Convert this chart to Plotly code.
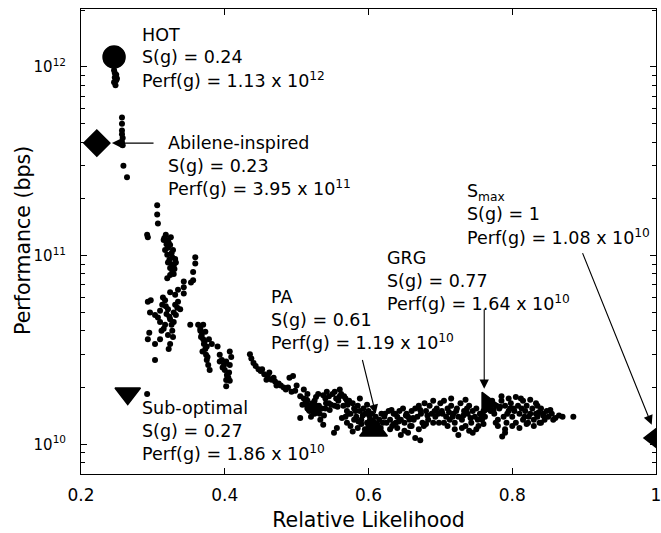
import math
import plotly.graph_objects as go

# ---------------- simulated graphs (small black dots) ----------------
hot_cluster_x = [0.245, 0.246, 0.247, 0.249, 0.247, 0.249, 0.246, 0.248, 0.250]
hot_cluster_y = [1.03e12, 9.6e11, 9.3e11, 9.1e11, 8.8e11, 8.5e11, 8.3e11, 8.0e11, 8.7e11]

abilene_cluster_x = [0.257, 0.257, 0.257, 0.257, 0.258, 0.257, 0.258, 0.259, 0.264]
abilene_cluster_y = [5.4e11, 5.0e11, 4.6e11, 4.4e11, 4.2e11, 4.0e11, 3.85e11, 3.0e11, 2.6e11]

upper_x = [0.306, 0.306, 0.307, 0.292, 0.293, 0.315, 0.321, 0.324, 0.317, 0.320, 0.321, 0.324,
           0.327, 0.329, 0.332, 0.327, 0.324, 0.320, 0.328, 0.321, 0.318, 0.325, 0.359, 0.359,
           0.356, 0.356, 0.353, 0.343, 0.343, 0.343, 0.323, 0.326, 0.330, 0.322, 0.319, 0.331,
           0.316, 0.326, 0.329]
upper_y = [1.85e11, 1.65e11, 1.48e11, 1.29e11, 1.25e11, 1.21e11, 1.21e11, 1.14e11, 1.07e11, 1.01e11, 9.2e10, 8.6e10,
           8.2e10, 8.9e10, 9.2e10, 9.8e10, 7.9e10, 7.6e10, 1.07e11, 1.10e11, 1.29e11, 1.25e11, 9.8e10, 9.1e10,
           8.2e10, 7.4e10, 7.2e10, 7.3e10, 6.8e10, 6.3e10, 9.5e10, 1.03e11, 8.5e10, 1.17e11, 1.15e11, 9.6e10,
           1.24e11, 9.0e10, 8.0e10]

mid_x = [0.293, 0.296, 0.303, 0.310, 0.313, 0.317, 0.321, 0.324, 0.327, 0.328, 0.324, 0.321, 0.317,
         0.310, 0.307, 0.331, 0.335, 0.338, 0.332, 0.329, 0.295, 0.303, 0.310, 0.303, 0.315, 0.331,
         0.293, 0.352, 0.292, 0.314, 0.324, 0.335, 0.297, 0.319, 0.326, 0.312, 0.322, 0.318, 0.329,
         0.334, 0.323]
mid_y = [5.7e10, 5.0e10, 4.85e10, 5.1e10, 5.5e10, 5.8e10, 5.2e10, 4.6e10, 4.0e10, 3.7e10, 3.4e10, 3.8e10, 4.3e10,
         4.45e10, 4.7e10, 5.5e10, 5.7e10, 5.2e10, 4.85e10, 4.45e10, 3.9e10, 3.4e10, 3.6e10, 2.8e10, 4.1e10, 6.2e10,
         3.6e10, 4.3e10, 1.85e10, 6.0e10, 6.4e10, 6.6e10, 5.8e10, 4.9e10, 4.3e10, 4.0e10, 3.2e10, 5.4e10, 5.0e10,
         5.3e10, 4.75e10]

c37_x = [0.363, 0.366, 0.368, 0.370, 0.371, 0.373, 0.374, 0.375, 0.377, 0.379, 0.366, 0.373, 0.378,
         0.375, 0.367, 0.382, 0.370, 0.369, 0.376, 0.372]
c37_y = [4.3e10, 4.0e10, 3.8e10, 3.6e10, 3.4e10, 3.2e10, 2.98e10, 2.8e10, 2.63e10, 2.48e10, 4.1e10, 3.95e10, 3.6e10,
         3.3e10, 3.7e10, 3.4e10, 4.3e10, 3.1e10, 2.9e10, 3.5e10]

c40_x = [0.390, 0.393, 0.396, 0.399, 0.400, 0.403, 0.406, 0.393, 0.402, 0.405, 0.407, 0.409, 0.407,
         0.402, 0.407, 0.402, 0.404, 0.397]
c40_y = [3.3e10, 2.98e10, 2.8e10, 2.63e10, 2.48e10, 2.33e10, 2.4e10, 2.75e10, 2.75e10, 2.25e10, 3.1e10, 2.9e10, 2.63e10,
         2.19e10, 2.17e10, 2.03e10, 2.28e10, 2.55e10]

band_a_x = [0.435, 0.437, 0.440, 0.443, 0.447, 0.450, 0.455, 0.460, 0.465, 0.470, 0.475, 0.458, 0.468,
            0.478, 0.490, 0.495, 0.500, 0.485, 0.493, 0.452, 0.472, 0.482, 0.498, 0.488, 0.462]
band_a_y = [3.0e10, 2.85e10, 2.7e10, 2.6e10, 2.5e10, 2.45e10, 2.35e10, 2.3e10, 2.2e10, 2.15e10, 2.1e10, 2.2e10, 2.25e10,
            2.05e10, 2.25e10, 2.3e10, 2.05e10, 1.95e10, 1.9e10, 2.5e10, 2.05e10, 2.0e10, 1.92e10, 2.0e10, 2.4e10]

band_b_x = [0.505, 0.510, 0.512, 0.515, 0.518, 0.520, 0.522, 0.525, 0.528, 0.530, 0.532, 0.535, 0.525,
            0.520, 0.515, 0.510, 0.540, 0.545, 0.550, 0.555, 0.558, 0.560, 0.545, 0.540, 0.537, 0.530,
            0.515, 0.505, 0.533, 0.537, 0.556, 0.552, 0.518, 0.523, 0.542, 0.548, 0.566, 0.570, 0.527,
            0.513, 0.560, 0.553]
band_b_y = [1.8e10, 1.75e10, 1.65e10, 1.7e10, 1.6e10, 1.55e10, 1.65e10, 1.7e10, 1.6e10, 1.5e10, 1.45e10, 1.55e10, 1.45e10,
            1.4e10, 1.85e10, 1.95e10, 1.75e10, 1.8e10, 1.85e10, 1.75e10, 1.7e10, 1.8e10, 1.65e10, 1.55e10, 1.82e10, 1.85e10,
            1.55e10, 1.38e10, 1.35e10, 1.27e10, 1.22e10, 1.15e10, 1.5e10, 1.58e10, 1.9e10, 1.62e10, 1.8e10, 1.7e10, 1.78e10,
            1.62e10, 1.95e10, 1.9e10]

band_c_x = [0.562, 0.565, 0.568, 0.570, 0.573, 0.575, 0.578, 0.580, 0.583, 0.585, 0.588, 0.590, 0.593,
            0.595, 0.598, 0.600, 0.603, 0.605, 0.608, 0.610, 0.613, 0.615, 0.618, 0.570, 0.575, 0.580,
            0.585, 0.590, 0.595, 0.600, 0.605, 0.610, 0.615, 0.578, 0.568, 0.588, 0.598, 0.620]
band_c_y = [1.85e10, 1.6e10, 1.75e10, 1.5e10, 1.7e10, 1.45e10, 1.65e10, 1.55e10, 1.4e10, 1.6e10, 1.5e10, 1.35e10, 1.55e10,
            1.45e10, 1.3e10, 1.5e10, 1.35e10, 1.45e10, 1.3e10, 1.4e10, 1.25e10, 1.35e10, 1.45e10, 1.3e10, 1.25e10, 1.35e10,
            1.22e10, 1.28e10, 1.2e10, 1.25e10, 1.15e10, 1.2e10, 1.15e10, 1.17e10, 1.4e10, 1.75e10, 1.62e10, 1.3e10]

band_d_x = [0.622, 0.625, 0.628, 0.630, 0.633, 0.635, 0.638, 0.640, 0.643, 0.645, 0.648, 0.650, 0.653,
            0.655, 0.658, 0.660, 0.663, 0.665, 0.668, 0.670, 0.673, 0.675, 0.678, 0.680, 0.683, 0.685,
            0.688, 0.690, 0.693, 0.695, 0.698, 0.700, 0.630, 0.640, 0.650, 0.660, 0.670, 0.680, 0.690,
            0.672, 0.665, 0.655, 0.645, 0.635]
band_d_y = [1.4e10, 1.3e10, 1.5e10, 1.35e10, 1.25e10, 1.45e10, 1.3e10, 1.4e10, 1.5e10, 1.35e10, 1.55e10, 1.3e10, 1.45e10,
            1.4e10, 1.25e10, 1.5e10, 1.35e10, 1.55e10, 1.4e10, 1.6e10, 1.45e10, 1.3e10, 1.65e10, 1.5e10, 1.35e10, 1.6e10,
            1.45e10, 1.7e10, 1.4e10, 1.55e10, 1.3e10, 1.65e10, 1.2e10, 1.22e10, 1.18e10, 1.25e10, 1.2e10, 1.28e10, 1.3e10,
            1.05e10, 1.08e10, 1.15e10, 1.12e10, 1.28e10]

band_e_x = [0.702, 0.705, 0.708, 0.710, 0.713, 0.715, 0.718, 0.720, 0.723, 0.725, 0.728, 0.730, 0.733,
            0.735, 0.738, 0.740, 0.743, 0.745, 0.748, 0.750, 0.753, 0.755, 0.758, 0.760, 0.710, 0.720,
            0.730, 0.740, 0.750, 0.760, 0.715, 0.735, 0.745, 0.725, 0.705]
band_e_y = [1.5e10, 1.7e10, 1.4e10, 1.55e10, 1.35e10, 1.6e10, 1.45e10, 1.3e10, 1.55e10, 1.4e10, 1.65e10, 1.35e10, 1.5e10,
            1.25e10, 1.45e10, 1.6e10, 1.3e10, 1.5e10, 1.4e10, 1.55e10, 1.25e10, 1.45e10, 1.35e10, 1.5e10, 1.25e10, 1.2e10,
            1.22e10, 1.18e10, 1.2e10, 1.28e10, 1.75e10, 1.72e10, 1.15e10, 1.12e10, 1.3e10]

band_f_x = [0.770, 0.772, 0.775, 0.778, 0.780, 0.782, 0.785, 0.788, 0.790, 0.792, 0.795, 0.798, 0.800,
            0.802, 0.805, 0.808, 0.810, 0.812, 0.815, 0.818, 0.820, 0.822, 0.825, 0.828, 0.830, 0.833,
            0.835, 0.838, 0.840, 0.843, 0.845, 0.780, 0.790, 0.800, 0.810, 0.820, 0.830, 0.840, 0.785,
            0.795, 0.805, 0.815, 0.825, 0.835, 0.848, 0.850, 0.855, 0.860, 0.865, 0.870, 0.885, 0.786,
            0.790]
band_f_y = [1.5e10, 1.7e10, 1.45e10, 1.6e10, 1.35e10, 1.55e10, 1.7e10, 1.4e10, 1.6e10, 1.3e10, 1.5e10, 1.65e10, 1.4e10,
            1.55e10, 1.3e10, 1.6e10, 1.45e10, 1.75e10, 1.35e10, 1.5e10, 1.6e10, 1.3e10, 1.45e10, 1.55e10, 1.35e10, 1.65e10,
            1.4e10, 1.3e10, 1.55e10, 1.45e10, 1.35e10, 1.25e10, 1.2e10, 1.25e10, 1.22e10, 1.28e10, 1.25e10, 1.3e10, 1.8e10,
            1.75e10, 1.78e10, 1.7e10, 1.72e10, 1.6e10, 1.5e10, 1.4e10, 1.45e10, 1.38e10, 1.42e10, 1.4e10, 1.4e10, 1.1e10,
            1.15e10]

band_fill_x = [0.508, 0.517, 0.523, 0.531, 0.538, 0.546, 0.553, 0.563, 0.572, 0.582, 0.592, 0.602, 0.612,
               0.623, 0.632, 0.642, 0.652, 0.662, 0.672, 0.682, 0.692, 0.703, 0.712, 0.722, 0.732, 0.742,
               0.752, 0.762, 0.774, 0.783, 0.793, 0.803, 0.813, 0.823, 0.833, 0.843, 0.853, 0.514, 0.527,
               0.541, 0.557, 0.571, 0.586, 0.601, 0.617, 0.637, 0.657, 0.677, 0.697, 0.717, 0.737, 0.757,
               0.777, 0.797, 0.817, 0.837, 0.857]
band_fill_y = [1.62e10, 1.52e10, 1.48e10, 1.6e10, 1.42e10, 1.52e10, 1.6e10, 1.38e10, 1.45e10, 1.5e10, 1.42e10, 1.35e10, 1.28e10,
               1.45e10, 1.52e10, 1.32e10, 1.42e10, 1.38e10, 1.52e10, 1.42e10, 1.5e10, 1.45e10, 1.48e10, 1.5e10, 1.42e10, 1.38e10,
               1.35e10, 1.4e10, 1.52e10, 1.58e10, 1.45e10, 1.5e10, 1.55e10, 1.4e10, 1.45e10, 1.42e10, 1.52e10, 1.72e10, 1.52e10,
               1.65e10, 1.58e10, 1.62e10, 1.32e10, 1.42e10, 1.22e10, 1.45e10, 1.35e10, 1.25e10, 1.45e10, 1.4e10, 1.55e10, 1.4e10,
               1.3e10, 1.55e10, 1.4e10, 1.48e10, 1.35e10]

# ---------------- highlighted topologies ----------------
special_names = ["HOT", "Abilene-inspired", "Sub-optimal", "PA", "GRG", "S<sub>max</sub>"]
special_s = [0.246, 0.222, 0.265, 0.607, 0.765, 1.0]
special_perf = [1.13e12, 3.95e11, 1.86e10, 1.19e10, 1.64e10, 1.08e10]
special_s_label = ["0.24", "0.23", "0.27", "0.61", "0.77", "1"]
special_perf_mant = ["1.13", "3.95", "1.86", "1.19", "1.64", "1.08"]
special_perf_exp = ["12", "11", "10", "10", "10", "10"]
special_symbols = ["circle", "diamond", "triangle-down", "triangle-up", "triangle-right", "triangle-left"]
special_sizes = [22, 20, 22, 24, 20, 24]

x_ticks = [0.2, 0.4, 0.6, 0.8, 1.0]
x_tick_text = ["0.2", "0.4", "0.6", "0.8", "1"]
y_ticks = [1e10, 1e11, 1e12]
y_tick_text = ["10<sup>10</sup>", "10<sup>11</sup>", "10<sup>12</sup>"]
y_minor = [m * 10 ** e for e in (9, 10, 11, 12) for m in range(2, 10)]

FONT = "DejaVu Sans, Liberation Sans, Arial, sans-serif"

sim_x = (hot_cluster_x + abilene_cluster_x + upper_x + mid_x + c37_x + c40_x +
         band_a_x + band_b_x + band_c_x + band_d_x + band_e_x + band_f_x + band_fill_x)
sim_y = (hot_cluster_y + abilene_cluster_y + upper_y + mid_y + c37_y + c40_y +
         band_a_y + band_b_y + band_c_y + band_d_y + band_e_y + band_f_y + band_fill_y)

fig = go.Figure()
fig.add_trace(go.Scatter(x=sim_x, y=sim_y, mode="markers",
                         marker=dict(size=6, color="black", line=dict(width=0)),
                         showlegend=False, hoverinfo="skip"))
for i in range(len(special_s)):
    fig.add_trace(go.Scatter(x=[special_s[i]], y=[special_perf[i]], mode="markers",
                             marker=dict(size=special_sizes[i], color="black", symbol=special_symbols[i],
                                         line=dict(width=1.5, color="black")),
                             showlegend=False, hoverinfo="skip"))

# Text blocks (left px, centre y px of first line) in screen pixels of the plot frame
W0, H0, L0, T0 = 575.0, 465.0, 81.0, 9.0
label_pos = [(140, 35), (166, 143), (140, 408), (269, 297), (385, 258), (465, 192)]
line_gap = 22.5
for i, (px, py) in enumerate(label_pos):
    lines = [special_names[i],
             "S(g) = " + special_s_label[i],
             "Perf(g) = " + special_perf_mant[i] + " x 10<sup>" + special_perf_exp[i] + "</sup>"]
    for k, t in enumerate(lines):
        yy = py + k * line_gap
        fig.add_annotation(x=(px - L0) / W0, y=(T0 + H0 - yy) / H0, xref="paper", yref="paper",
                           text=t, showarrow=False, xanchor="left", yanchor="middle",
                           font=dict(family=FONT, size=17.5, color="black"))

# y-axis title as a rotated annotation (centre at x=23px, y=241px)
fig.add_annotation(x=(23 - L0) / W0, y=(T0 + H0 - 241) / H0, xref="paper", yref="paper",
                   text="Performance (bps)", textangle=-90, showarrow=False,
                   xanchor="center", yanchor="middle",
                   font=dict(family=FONT, size=20.5, color="black"))

# Arrows: (head_x, head_perf, tail_x, tail_perf)
arrows = [
    (0.243, 3.95e11, 0.303, 3.95e11),
    (0.610, 1.45e10, 0.591, 2.85e10),
    (0.761, 1.97e10, 0.761, 5.3e10),
    (0.994, 1.27e10, 0.897, 1.05e11),
]
for hx, hy, tx, ty in arrows:
    fig.add_annotation(x=hx, y=math.log10(hy), ax=tx, ay=math.log10(ty), xref="x", yref="y",
                       axref="x", ayref="y", text="", showarrow=True, arrowhead=2,
                       arrowsize=1.7, arrowwidth=1.1, arrowcolor="black")

axis_common = dict(showline=True, linecolor="black", linewidth=1, mirror="allticks", automargin=False,
                   ticks="inside", ticklen=6, tickcolor="black", showgrid=False, zeroline=False)

fig.update_xaxes(range=[0.2, 1.0], tickmode="array", tickvals=x_ticks, ticktext=x_tick_text,
                 ticklabelstandoff=6, ticklabeloverflow="allow",
                 tickfont=dict(family=FONT, size=17, color="black"),
                 title=dict(text="Relative Likelihood", font=dict(family=FONT, size=20.5, color="black"), standoff=8),
                 **axis_common)
fig.update_yaxes(type="log", range=[9.8426, 12.3074], tickmode="array", tickvals=y_ticks, ticktext=y_tick_text,
                 ticklabelstandoff=11, tickfont=dict(family=FONT, size=15, color="black"),
                 minor=dict(tickmode="array", tickvals=y_minor, ticks="inside", ticklen=4, tickcolor="black"),
                 **axis_common)

fig.update_layout(width=661, height=533, margin=dict(l=81, r=5, t=9, b=59, autoexpand=False),
                  plot_bgcolor="white", paper_bgcolor="white", showlegend=False)

fig.write_html("out.html", config={"displayModeBar": False},
               post_script="document.body.style.margin='0';document.body.style.overflow='hidden';")
